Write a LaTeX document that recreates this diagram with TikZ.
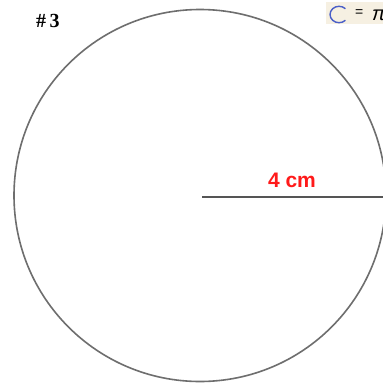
\documentclass[tikz,border=0pt]{standalone}
\usepackage{fontspec}
\setmainfont{Liberation Sans}
\newfontfamily\numfont{Liberation Serif}
\definecolor{rimgray}{HTML}{6E6E6E}
\definecolor{linegray}{HTML}{555555}
\definecolor{labelred}{HTML}{FF1A1A}
\definecolor{keybeige}{HTML}{F6F0E2}
\definecolor{keyblue}{HTML}{4A5FC8}
\begin{document}
\begin{tikzpicture}[x=1pt,y=-1pt]
\useasboundingbox (0,0) rectangle (383,383);
\clip (0,0) rectangle (383,383);
\fill[white] (0,0) rectangle (383,383);
% formula key, cut off at the right edge
\fill[keybeige] (326,2) rectangle (400,24);
\draw[keyblue,line width=1.4pt] (345.4,20.3) arc[start angle=45,end angle=315,x radius=9,y radius=8.2];
\node[anchor=west,inner sep=0pt,font=\fontsize{14}{14}\selectfont] (eq) at (355,13) {=};
\node[anchor=west,inner sep=0pt,font=\fontsize{20}{20}\selectfont] (pi) at (372,15) {\textit{π}};
% title
\node[anchor=west,inner sep=0pt,font=\numfont\bfseries\fontsize{20}{20}\selectfont] (num) at (36,21) {\#\,3};
% circle and radius
\coordinate (O) at (202,197);
\coordinate (R) at (386,197);
\draw[rimgray,line width=1.6pt] (200,195.5) circle[radius=186];
\draw[linegray,line width=1.8pt] (O) -- (R);
\node[labelred,font=\bfseries\fontsize{21}{21}\selectfont,inner sep=0pt] (lbl) at (292,180.5) {4 cm};
\end{tikzpicture}
\end{document}
